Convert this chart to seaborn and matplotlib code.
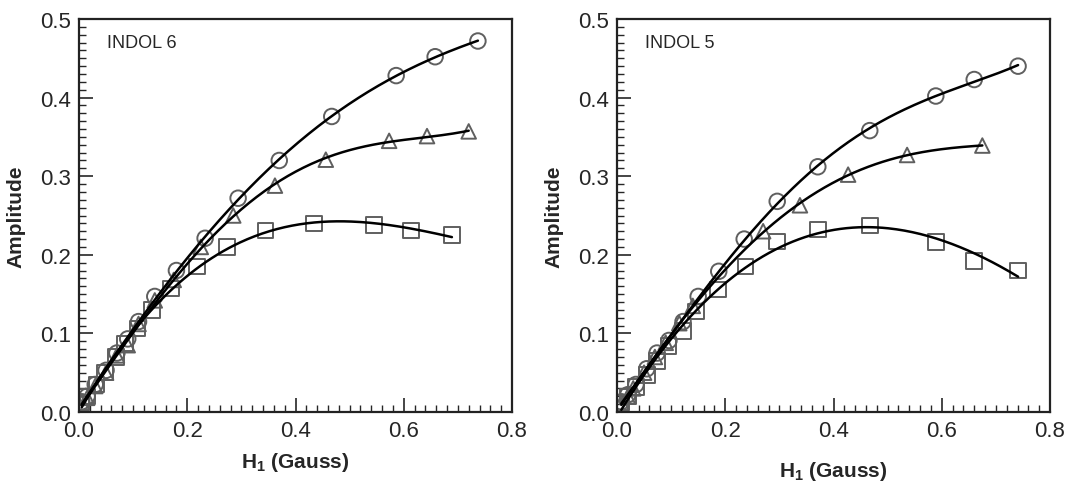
import numpy as np
import pandas as pd
import matplotlib
matplotlib.use("Agg")
import matplotlib.pyplot as plt
import seaborn as sns
from matplotlib.ticker import MultipleLocator, FuncFormatter

# ---------------- data ----------------
# INDOL 6 (left)
i6_circ_x = [0.005, 0.015, 0.03, 0.05, 0.07, 0.09, 0.11, 0.14, 0.18, 0.233, 0.294, 0.370, 0.467, 0.586, 0.658, 0.737]
i6_circ_y = [0.013, 0.020, 0.035, 0.053, 0.075, 0.093, 0.115, 0.147, 0.180, 0.221, 0.272, 0.320, 0.376, 0.428, 0.452, 0.472]
i6_tri_x = [0.005, 0.015, 0.03, 0.05, 0.07, 0.09, 0.11, 0.14, 0.175, 0.225, 0.285, 0.362, 0.456, 0.573, 0.643, 0.720]
i6_tri_y = [0.012, 0.018, 0.033, 0.050, 0.072, 0.085, 0.112, 0.142, 0.168, 0.210, 0.250, 0.288, 0.321, 0.345, 0.351, 0.357]
i6_sq_x = [0.005, 0.015, 0.032, 0.048, 0.068, 0.085, 0.108, 0.135, 0.170, 0.218, 0.273, 0.345, 0.434, 0.545, 0.613, 0.689]
i6_sq_y = [0.012, 0.020, 0.035, 0.050, 0.070, 0.087, 0.106, 0.130, 0.157, 0.185, 0.210, 0.231, 0.240, 0.238, 0.231, 0.225]

# INDOL 5 (right)
i5_circ_x = [0.008, 0.02, 0.035, 0.055, 0.074, 0.096, 0.122, 0.150, 0.188, 0.235, 0.296, 0.371, 0.467, 0.589, 0.660, 0.741]
i5_circ_y = [0.013, 0.022, 0.035, 0.055, 0.075, 0.091, 0.115, 0.147, 0.179, 0.220, 0.268, 0.312, 0.358, 0.402, 0.423, 0.440]
i5_tri_x = [0.008, 0.02, 0.03, 0.05, 0.07, 0.09, 0.115, 0.14, 0.270, 0.338, 0.427, 0.536, 0.675]
i5_tri_y = [0.012, 0.020, 0.030, 0.050, 0.070, 0.088, 0.113, 0.135, 0.230, 0.263, 0.302, 0.327, 0.339]
i5_sq_x = [0.008, 0.02, 0.035, 0.055, 0.074, 0.095, 0.122, 0.146, 0.187, 0.237, 0.296, 0.371, 0.467, 0.589, 0.660, 0.741]
i5_sq_y = [0.012, 0.020, 0.032, 0.047, 0.065, 0.084, 0.103, 0.128, 0.156, 0.185, 0.217, 0.232, 0.237, 0.216, 0.192, 0.180]

panel_titles = ["INDOL 6", "INDOL 5"]
x_ticks = [0.0, 0.2, 0.4, 0.6, 0.8]
y_ticks = [0.0, 0.1, 0.2, 0.3, 0.4, 0.5]

# ---------------- style ----------------
sns.set_style("white")
plt.rcParams["font.family"] = ["Liberation Sans", "DejaVu Sans"]
plt.rcParams["mathtext.fontset"] = "custom"
plt.rcParams["mathtext.rm"] = "Liberation Sans"
plt.rcParams["mathtext.bf"] = "Liberation Sans:bold"

fig = plt.figure(figsize=(10.67, 4.85), dpi=100)
ax1 = fig.add_axes([79 / 1067, 1 - 413 / 485, 433 / 1067, 393 / 485])
ax2 = fig.add_axes([617 / 1067, 1 - 413 / 485, 433 / 1067, 393 / 485])

panels = [
    (ax1, [(i6_circ_x, i6_circ_y, "o", 4), (i6_tri_x, i6_tri_y, "^", 4), (i6_sq_x, i6_sq_y, "s", 3)]),
    (ax2, [(i5_circ_x, i5_circ_y, "o", 4), (i5_tri_x, i5_tri_y, "^", 4), (i5_sq_x, i5_sq_y, "s", 3)]),
]

mk_col = "#5f5f5f"
for k, (ax, series) in enumerate(panels):
    for xs, ys, m, deg in series:
        df = pd.DataFrame({"x": xs, "y": ys})
        size = 125 if m != "^" else 110
        sns.scatterplot(data=df, x="x", y="y", marker=m, s=size, facecolors="none",
                        edgecolor=mk_col, linewidth=1.4, ax=ax, zorder=2)
        # least-squares smooth fit through the points
        coef = np.polyfit(xs, ys, deg)
        fx = np.linspace(min(xs), max(xs), 200)
        fit = pd.DataFrame({"x": fx, "y": np.polyval(coef, fx)})
        sns.lineplot(data=fit, x="x", y="y", color="black", linewidth=1.8, ax=ax, zorder=3)

    ax.set_xlim(0, 0.8)
    ax.set_ylim(0, 0.5)
    ax.set_xticks(x_ticks)
    ax.set_yticks(y_ticks)
    ax.xaxis.set_minor_locator(MultipleLocator(0.02))
    ax.yaxis.set_minor_locator(MultipleLocator(0.01))
    ax.xaxis.set_major_formatter(FuncFormatter(lambda v, p: f"{v:.1f}"))
    ax.yaxis.set_major_formatter(FuncFormatter(lambda v, p: f"{v:.1f}"))
    ax.tick_params(axis="both", which="major", direction="in", length=10, width=1.2,
                   labelsize=16, top=False, right=False, bottom=True, left=True, pad=6)
    ax.tick_params(axis="both", which="minor", direction="in", length=5, width=1.0,
                   top=False, right=False, bottom=True, left=True)
    for sp in ax.spines.values():
        sp.set_visible(True)
        sp.set_color("#222222")
        sp.set_linewidth(1.6)
    ax.set_ylabel("Amplitude", fontsize=15, fontweight="bold", labelpad=10)
    ax.set_xlabel(r"$\mathbf{H_1}$ (Gauss)", fontsize=15, fontweight="bold",
                  labelpad=6 if k == 0 else 13)
    ax.text(0.065, 0.94, panel_titles[k], transform=ax.transAxes, fontsize=13,
            ha="left", va="center")
    ax.grid(False)

fig.savefig("out.png", dpi=100)
